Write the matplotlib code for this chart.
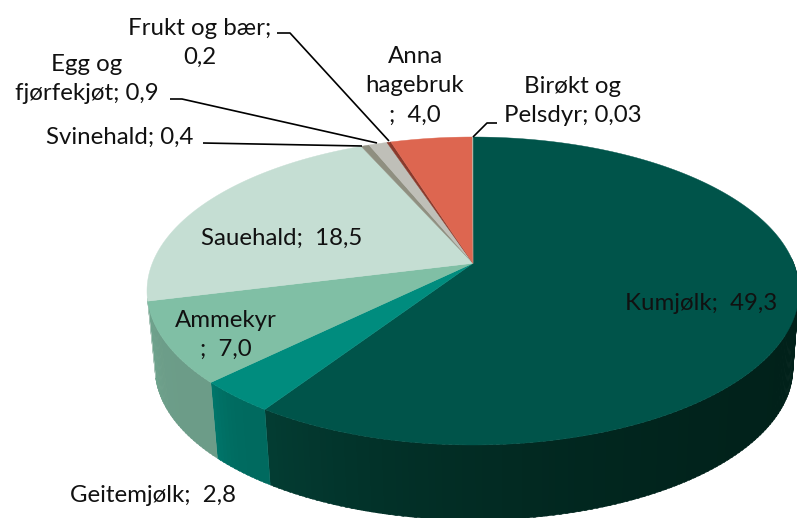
import numpy as np
import matplotlib
matplotlib.use("Agg")
import matplotlib.pyplot as plt
from matplotlib.colors import to_rgb

plt.rcParams['font.family'] = ['Lato', 'DejaVu Sans']

names = ["Kumjølk", "Geitemjølk", "Ammekyr", "Sauehald", "Svinehald",
         "Egg og fjørfekjøt", "Frukt og bær", "Anna hagebruk", "Birøkt og Pelsdyr"]
values = [49.3, 2.8, 7.0, 18.5, 0.4, 0.9, 0.2, 4.0, 0.03]
top_colors = ["#00544a", "#008c7e", "#80bfa5", "#c5ded3", "#8f8f80",
              "#bfbfb8", "#8a3a2c", "#dd6650", "#b8b8a8"]
wall_left = ["#033d33", "#00786c", "#6fa58e", "#a8c4b8", "#77776a",
             "#a0a098", "#6a2a20", "#b85240", "#999988"]
wall_right = ["#01211a", "#006a5f", "#6c9c88", "#a8c4b8", "#77776a",
              "#a0a098", "#6a2a20", "#b85240", "#999988"]
label_text = ["Kumjølk;  49,3", "Geitemjølk;  2,8", "Ammekyr\n;  7,0", "Sauehald;  18,5",
              "Svinehald; 0,4", "Egg og\nfjørfekjøt; 0,9", "Frukt og bær;\n0,2",
              "Anna\nhagebruk\n;  4,0", "Birøkt og\nPelsdyr; 0,03"]
label_pos = [(701, 303), (153, 496), (226, 335), (282, 238), (120, 137),
             (87, 79), (200, 43), (415, 86), (573, 101)]

# ellipse of the top face and of the bottom edge, in pixels
top_ell = (473, 291, 326, 154)
bot_ell = (474, 368, 319, 152)
tilt = 0.18  # perspective, moves the pie centre up from the ellipse centre


def rim(theta, ell):
    # theta clockwise from 12 o'clock, degrees
    cx, cy, rx, ry = ell
    t = np.radians(theta)
    u, v = np.sin(t), np.cos(t)
    d = 1 + tilt * v
    return cx + rx * u * np.sqrt(1 - tilt ** 2) / d, cy - ry * (v + tilt) / d


fig = plt.figure(figsize=(7.97, 5.18), dpi=100)
ax = fig.add_axes([0, 0, 1, 1])
ax.set_xlim(0, 797)
ax.set_ylim(518, 0)
ax.axis("off")

edges = np.concatenate([[0], np.cumsum(values)]) / sum(values) * 360
apex = (top_ell[0], top_ell[1] - top_ell[3] * tilt)

# side wall first, in thin strips so the shade can change
for i in range(len(values)):
    a0, b0 = max(edges[i], 88), min(edges[i + 1], 257)
    if b0 <= a0:
        continue
    steps = np.linspace(a0, b0, max(int(b0 - a0) + 2, 2))
    c0, c1 = np.array(to_rgb(wall_right[i])), np.array(to_rgb(wall_left[i]))
    for k in range(len(steps) - 1):
        th = np.linspace(steps[k], min(steps[k + 1] + 0.4, b0), 4)
        xt, yt = rim(th, top_ell)
        xb, yb = rim(th, bot_ell)
        g = ((steps[k] - a0) / (b0 - a0)) ** 3
        ax.fill(np.r_[xt, xb[::-1]], np.r_[yt, yb[::-1]], color=c0 * (1 - g) + c1 * g,
                lw=0.3, zorder=2)

# top face
for i in range(len(values)):
    th = np.linspace(edges[i], edges[i + 1], max(int(edges[i + 1] - edges[i]) * 2, 2))
    x, y = rim(th, top_ell)
    ax.fill(np.r_[apex[0], x], np.r_[apex[1], y], color=top_colors[i], lw=0.3, zorder=3)

# leader lines
leaders = [[(277, 33), (290, 33), (389, 141)],
           [(170, 99), (182, 99), (377, 143)],
           [(203, 143), (362, 146)],
           [(473, 137), (487, 123), (497, 123)]]
for pts in leaders:
    ax.plot(*zip(*pts), color="black", lw=1.2, zorder=4, solid_capstyle="butt")

for txt, (x, y) in zip(label_text, label_pos):
    ax.text(x, y, txt, ha="center", va="center", fontsize=17.3, color="#111111",
            linespacing=1.5, zorder=5)

fig.savefig("out.png", dpi=100)
